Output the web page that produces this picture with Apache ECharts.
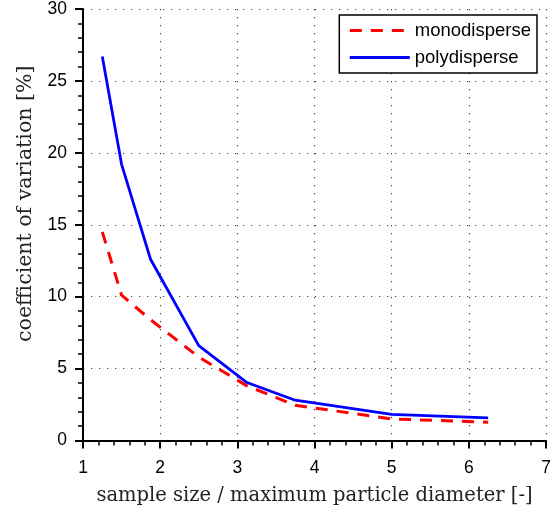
<!DOCTYPE html>
<html>
<head>
<meta charset="utf-8">
<script src="https://cdn.jsdelivr.net/npm/echarts@6/dist/echarts.min.js"></script>
<style>
  html, body { margin: 0; padding: 0; background: #fff; }
  #chart { width: 556px; height: 513px; }
</style>
</head>
<body>
<div id="chart"></div>
<script>
// sample size / max particle diameter
const xValues = [1.25, 1.5, 1.875, 2.5, 3.125, 3.75, 5, 6.25];
const monoCV = [14.5, 10.1, 8.4, 5.8, 3.8, 2.45, 1.5, 1.27];
const polyCV = [26.7, 19.2, 12.6, 6.6, 4.03, 2.8, 1.81, 1.58];
const seriesNames = ['monodisperse', 'polydisperse'];

const toPairs = (xs, ys) => xs.map((x, i) => [x, ys[i]]);

const chart = echarts.init(document.getElementById('chart'));

const gridDots = {
    show: true,
    lineStyle: { color: '#444', width: 1.2, type: [1.2, 6.8] }
};

const option = {
    backgroundColor: '#fff',
    animation: false,
    grid: { left: 83, right: 10, top: 7, bottom: 72.5 },
    legend: {
        orient: 'vertical',
        right: 19,
        top: 15,
        backgroundColor: '#fff',
        borderColor: '#000',
        borderWidth: 1.5,
        borderRadius: 0,
        padding: [6, 6, 6, 9],
        itemWidth: 60,
        itemHeight: 14,
        itemGap: 8,
        itemStyle: { opacity: 0 },
        lineStyle: { width: 3 },
        textStyle: { fontFamily: 'Liberation Sans', fontSize: 18.5, color: '#000' },
        data: seriesNames
    },
    xAxis: {
        type: 'value',
        min: 1,
        max: 7,
        interval: 1,
        name: 'sample size / maximum particle diameter [-]',
        nameLocation: 'middle',
        nameGap: 45,
        nameTextStyle: { fontFamily: 'DejaVu Serif', fontSize: 19.5, color: '#222' },
        axisLine: { lineStyle: { color: '#000', width: 2 } },
        axisTick: { length: 8, lineStyle: { color: '#000', width: 2 } },
        minorTick: { show: true, splitNumber: 5, length: 5, lineStyle: { color: '#000', width: 1.5 } },
        axisLabel: { fontFamily: 'Liberation Sans', fontSize: 17.5, color: '#000', margin: 19 },
        splitLine: gridDots
    },
    yAxis: {
        type: 'value',
        min: 0,
        max: 30,
        interval: 5,
        name: 'coefficient of variation [%]',
        nameLocation: 'middle',
        nameGap: 43,
        nameTextStyle: { fontFamily: 'DejaVu Serif', fontSize: 20.5, color: '#222', padding: [0, 0, 0, 42] },
        axisLine: { show: true, lineStyle: { color: '#000', width: 2 } },
        axisTick: { show: true, length: 8, lineStyle: { color: '#000', width: 2 } },
        minorTick: { show: true, splitNumber: 5, length: 5, lineStyle: { color: '#000', width: 1.5 } },
        axisLabel: { fontFamily: 'Liberation Sans', fontSize: 17.5, color: '#000', margin: 16 },
        splitLine: gridDots
    },
    series: [
        {
            name: seriesNames[0],
            type: 'line',
            data: toPairs(xValues, monoCV),
            symbol: 'none',
            color: '#ff0000',
            lineStyle: { color: '#ff0000', width: 3, type: [12, 9] },
            z: 3
        },
        {
            name: seriesNames[1],
            type: 'line',
            data: toPairs(xValues, polyCV),
            symbol: 'none',
            color: '#0000ff',
            lineStyle: { color: '#0000ff', width: 2.8 },
            z: 4
        }
    ]
};

chart.setOption(option);
</script>
</body>
</html>
